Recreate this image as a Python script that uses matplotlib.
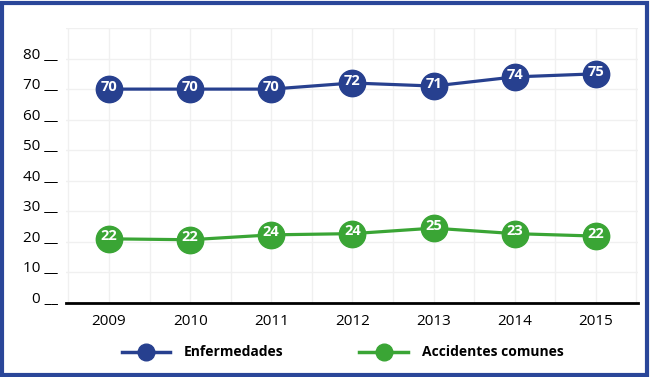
import matplotlib.pyplot as plt
from matplotlib.patches import Rectangle
from matplotlib.lines import Line2D

years = ['2009', '2010', '2011', '2012', '2013', '2014', '2015']
enfermedades = [70, 70, 70, 72, 71, 74, 75]
enf_labels = ['70', '70', '70', '72', '71', '74', '75']
# plotted positions of the green points sit a bit below their labels
accidentes = [21, 20.7, 22.3, 22.7, 24.5, 22.7, 21.9]
acc_labels = ['22', '22', '24', '24', '25', '23', '22']
y_ticks = [0, 10, 20, 30, 40, 50, 60, 70, 80]

BLUE = '#27408f'
GREEN = '#3aa535'

plt.rcParams['font.family'] = ['Open Sans', 'DejaVu Sans']

fig = plt.figure(figsize=(6.5, 3.77), dpi=100)
ax = fig.add_axes([66 / 650, 1 - 303 / 377, (638 - 66) / 650, (303 - 28) / 377])

x = list(range(len(years)))

# light grid, every half category and every 10 units
for gx in [i * 0.5 - 0.5 for i in range(15)]:
    ax.axvline(gx, color='#f0f0f0', lw=1, zorder=0)
for gy in y_ticks[1:] + [90]:
    ax.axhline(gy, color='#f0f0f0', lw=1, zorder=0)

ax.plot(x, enfermedades, color=BLUE, lw=2.3, marker='o', ms=19, zorder=3)
ax.plot(x, accidentes, color=GREEN, lw=2.3, marker='o', ms=19, zorder=3)

for xi, yi, lab in zip(x, enfermedades, enf_labels):
    ax.text(xi, yi + 0.6, lab, color='white', fontsize=10.5, fontweight='bold',
            ha='center', va='center', zorder=4)
for xi, yi, lab in zip(x, accidentes, acc_labels):
    ax.text(xi, yi + 0.8, lab, color='white', fontsize=10.5, fontweight='bold',
            ha='center', va='center', zorder=4)

ax.set_xlim(-0.53, 6.52)
ax.set_ylim(0, 90)
for s in ['top', 'right', 'left']:
    ax.spines[s].set_visible(False)
ax.spines['bottom'].set_linewidth(2)
ax.spines['bottom'].set_color('black')

ax.set_xticks(x)
ax.set_xticklabels(years, fontsize=11)
ax.tick_params(axis='x', length=0, pad=8)
ax.set_yticks(y_ticks)
ax.set_yticklabels([f'{v} __' for v in y_ticks], fontsize=11, va='baseline')
ax.tick_params(axis='y', length=0, pad=6)

# legend drawn by hand in figure pixel coords
W, H = 650, 377
ly = 1 - 352 / H
for x0, x1, col, name in [(122, 170, BLUE, 'Enfermedades'),
                          (359, 408, GREEN, 'Accidentes comunes')]:
    fig.add_artist(Line2D([x0 / W, x1 / W], [ly, ly], color=col, lw=2.5,
                          transform=fig.transFigure))
    fig.add_artist(Line2D([(x0 + x1) / 2 / W], [ly], color=col, marker='o', ms=12,
                          transform=fig.transFigure))
    fig.text((x1 + 14) / W, ly, name, fontsize=10, fontweight='bold',
             ha='left', va='center')

fig.patches.append(Rectangle((0.003, 0.005), 0.992, 0.988, transform=fig.transFigure,
                             fill=False, edgecolor='#2a4699', lw=3))

fig.savefig('out.png', dpi=100)
